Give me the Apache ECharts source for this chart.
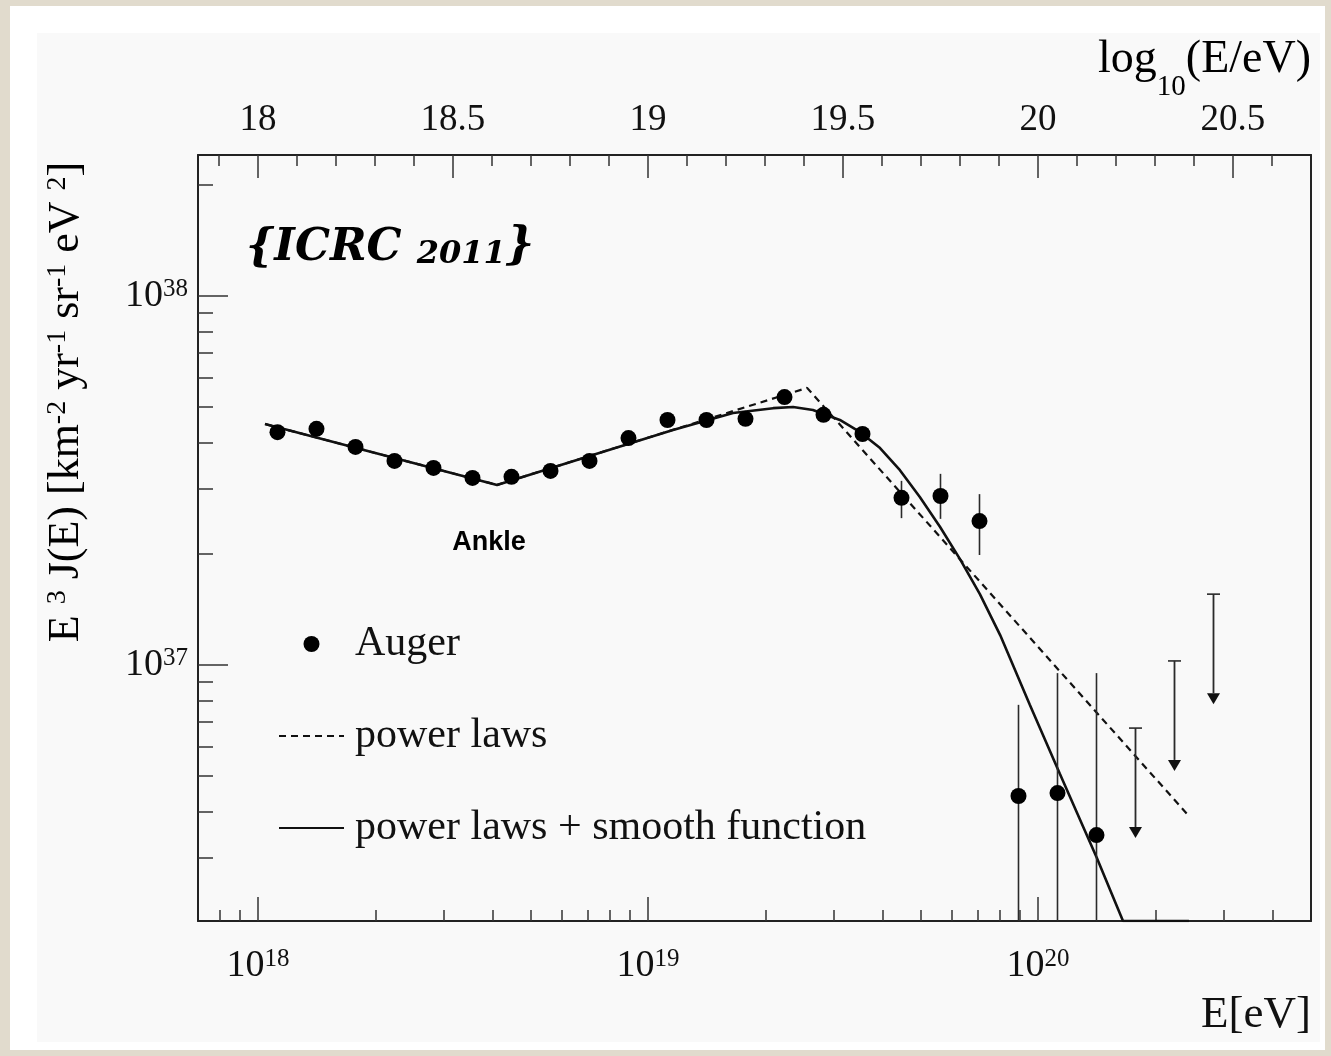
<!DOCTYPE html>
<html><head><meta charset="utf-8">
<script src="https://cdn.jsdelivr.net/npm/echarts@6/dist/echarts.min.js"></script>
<style>
html,body{margin:0;padding:0;width:1331px;height:1056px;background:#e1dbcd;overflow:hidden}
#frame{position:absolute;left:10px;top:6px;width:1315px;height:1044px;background:#ffffff}
#panel{position:absolute;left:37px;top:33px;width:1283px;height:1009px;background:#f9f9f9}
#chart{position:absolute;left:0;top:0;width:1331px;height:1056px}
</style></head><body>
<div id="frame"></div><div id="panel"></div><div id="chart"></div>
<script>
// ---- data (log10 values) ----
const AUGER_LOG_E = [18.05,18.15,18.25,18.35,18.45,18.55,18.65,18.75,18.85,18.95,19.05,19.15,19.25,19.35,19.45,19.55,19.65,19.75,19.85,19.95,20.05,20.15];
const AUGER_LOG_FLUX = [37.631,37.640,37.591,37.553,37.534,37.507,37.510,37.526,37.553,37.615,37.664,37.664,37.667,37.726,37.678,37.626,37.453,37.458,37.390,36.645,36.653,36.539];
const ERR_LOG_E = [19.65,19.75,19.85,19.95,20.05,20.15];
const ERR_LOG_LO = [37.398,37.396,37.298,36.0,36.0,36.0];
const ERR_LOG_HI = [37.499,37.518,37.463,36.892,36.978,36.978];
const UL_LOG_E = [20.25,20.35,20.45];
const UL_LOG_FLUX = [36.829,37.011,37.192];
const PL_LOG_E = [18.018,18.613,19.408,20.385];
const PL_LOG_FLUX = [37.653,37.488,37.751,36.593];
const SMOOTH_LOG_E = [18.018,18.613,18.877,19.064,19.218,19.321,19.372,19.423,19.492,19.544,19.595,19.646,19.697,19.749,19.800,19.851,19.903,19.979,20.056,20.151,20.218,20.387];
const SMOOTH_LOG_FLUX = [37.653,37.488,37.575,37.637,37.683,37.696,37.699,37.691,37.664,37.631,37.588,37.528,37.455,37.374,37.287,37.192,37.081,36.892,36.705,36.477,36.306,36.306];

// ---- axes / ticks ----
const X_MIN = 17.8462, X_MAX = 20.7;
const Y_MIN = 36.3062, Y_MAX = 38.3821;
const BOTTOM_MAJOR = [18, 19, 20];
const TOP_LABELS = [18, 18.5, 19, 19.5, 20, 20.5];
const TOP_MINOR = [17.9,18.1,18.2,18.3,18.4,18.6,18.7,18.8,18.9,19.1,19.2,19.3,19.4,19.6,19.7,19.8,19.9,20.1,20.2,20.3,20.4,20.6];
const LEFT_MAJOR = [37, 38];
const MULTIPLIERS = [2,3,4,5,6,7,8,9];
const DECADES_X = [17, 18, 19, 20];
const DECADES_Y = [36, 37, 38];
function minorLog(decades, lo, hi) {
  const out = [];
  decades.forEach(d => MULTIPLIERS.forEach(k => {
    const v = d + Math.log10(k);
    if (v > lo + 0.005 && v < hi - 0.005) out.push(v);
  }));
  return out;
}
const BOTTOM_MINOR = minorLog(DECADES_X, X_MIN, X_MAX);
const LEFT_MINOR = minorLog(DECADES_Y, Y_MIN, Y_MAX);

const SERIF = '"Liberation Serif", "Times New Roman", serif';
const INK = '#111';
const TICK = { color: '#333', width: 1.5 };
const powRich = {
  b: { fontFamily: SERIF, fontSize: 38, color: INK, lineHeight: 38, verticalAlign: 'bottom', padding: [4, 0, 0, 0] },
  s: { fontFamily: SERIF, fontSize: 25, color: INK, lineHeight: 25, verticalAlign: 'top' }
};
const powFmt = v => '{b|10}{s|' + Math.round(v) + '}';

function xAx(position, ticks, len, labels, showLine) {
  return {
    type: 'value', position: position, min: X_MIN, max: X_MAX,
    axisLine: { show: showLine, lineStyle: { color: '#222', width: 2 } },
    axisTick: { show: true, inside: true, length: len, customValues: ticks, lineStyle: TICK },
    axisLabel: labels || { show: false },
    splitLine: { show: false }
  };
}
function yAx(position, ticks, len, labels, showLine) {
  return {
    type: 'value', position: position, min: Y_MIN, max: Y_MAX,
    axisLine: { show: showLine, lineStyle: { color: '#222', width: 2 } },
    axisTick: { show: ticks.length > 0, inside: true, length: len, customValues: ticks.length ? ticks : undefined, lineStyle: TICK },
    axisLabel: labels || { show: false },
    splitLine: { show: false }
  };
}

const chart = echarts.init(document.getElementById('chart'), null, { renderer: 'canvas' });
const option = {
  animation: false,
  backgroundColor: 'transparent',
  grid: { left: 198, top: 155, width: 1113, height: 766, containLabel: false },
  xAxis: [
    xAx('bottom', BOTTOM_MAJOR, 24, { show: true, customValues: BOTTOM_MAJOR, margin: 26, formatter: powFmt, rich: powRich }, true),
    xAx('bottom', BOTTOM_MINOR, 11, null, false),
    xAx('top', TOP_LABELS, 23, { show: true, customValues: TOP_LABELS, margin: 16, formatter: v => String(v), fontFamily: SERIF, fontSize: 37, color: INK }, true),
    xAx('top', TOP_MINOR, 11, null, false)
  ],
  yAxis: [
    yAx('left', LEFT_MAJOR, 30, { show: true, customValues: LEFT_MAJOR, margin: 10, formatter: powFmt, rich: powRich }, true),
    yAx('left', LEFT_MINOR, 15, null, false),
    yAx('right', [], 0, null, true)
  ],
  legend: {
    orient: 'vertical', left: 278, top: 622, padding: 0, itemWidth: 65, itemHeight: 16, itemGap: 48,
    selectedMode: false,
    textStyle: { fontFamily: SERIF, fontSize: 42, color: INK, lineHeight: 44, padding: [0, 0, 0, 6] },
    data: [
      { name: 'Auger', icon: 'circle', itemStyle: { color: '#000', opacity: 1 } },
      { name: 'power laws', itemStyle: { opacity: 0 } },
      { name: 'power laws + smooth function', itemStyle: { opacity: 0 } }
    ]
  },
  series: [
    {
      name: 'power laws', type: 'line', xAxisIndex: 0, yAxisIndex: 0, symbol: 'none', z: 3,
      itemStyle: { color: '#000' },
      lineStyle: { color: INK, width: 2.2, type: [7, 5] },
      data: PL_LOG_E.map((x, i) => [x, PL_LOG_FLUX[i]])
    },
    {
      name: 'power laws + smooth function', type: 'line', xAxisIndex: 0, yAxisIndex: 0, symbol: 'none', z: 4,
      itemStyle: { color: '#000' },
      lineStyle: { color: INK, width: 2.6 },
      data: SMOOTH_LOG_E.map((x, i) => [x, SMOOTH_LOG_FLUX[i]])
    },
    {
      name: 'errors', type: 'custom', xAxisIndex: 0, yAxisIndex: 0, z: 5, clip: true,
      data: ERR_LOG_E.map((x, i) => [x, ERR_LOG_LO[i], ERR_LOG_HI[i]]),
      encode: { x: 0, y: [1, 2] },
      renderItem: function (params, api) {
        const top = api.coord([api.value(0), api.value(2)]);
        const bot = api.coord([api.value(0), api.value(1)]);
        const cs = params.coordSys;
        return {
          type: 'line',
          shape: { x1: top[0], y1: top[1], x2: bot[0], y2: Math.min(bot[1], cs.y + cs.height) },
          style: { stroke: '#2a2a2a', lineWidth: 1.6 }
        };
      }
    },
    {
      name: 'limits', type: 'custom', xAxisIndex: 0, yAxisIndex: 0, z: 5,
      data: UL_LOG_E.map((x, i) => [x, UL_LOG_FLUX[i]]),
      encode: { x: 0, y: 1 },
      renderItem: function (params, api) {
        const p = api.coord([api.value(0), api.value(1)]);
        const L = 110, hw = 6.5, hh = 11;
        return {
          type: 'group',
          children: [
            { type: 'line', shape: { x1: p[0], y1: p[1], x2: p[0], y2: p[1] + L - hh }, style: { stroke: '#2a2a2a', lineWidth: 1.8 } },
            { type: 'line', shape: { x1: p[0] - hw, y1: p[1], x2: p[0] + hw, y2: p[1] }, style: { stroke: '#2a2a2a', lineWidth: 1.6 } },
            { type: 'polygon', shape: { points: [[p[0] - hw, p[1] + L - hh], [p[0] + hw, p[1] + L - hh], [p[0], p[1] + L]] }, style: { fill: '#111' } }
          ]
        };
      }
    },
    {
      name: 'Auger', type: 'scatter', xAxisIndex: 0, yAxisIndex: 0, z: 6,
      symbol: 'circle', symbolSize: 16,
      itemStyle: { color: '#000', opacity: 1 },
      data: AUGER_LOG_E.map((x, i) => [x, AUGER_LOG_FLUX[i]])
    }
  ],
  graphic: [
    {
      type: 'text', x: 246, y: 223, z: 10,
      style: {
        text: '{a|{ICRC }{b|2011}}',
        fontFamily: '"DejaVu Serif", serif', fontWeight: 'bold', fontStyle: 'italic', fontSize: 44, fill: '#000',
        verticalAlign: 'top',
        rich: {
          a: { fontFamily: '"DejaVu Serif", serif', fontWeight: 'bold', fontStyle: 'italic', fontSize: 44, lineHeight: 48, verticalAlign: 'bottom', color: '#000' },
          b: { fontFamily: '"DejaVu Serif", serif', fontWeight: 'bold', fontStyle: 'italic', fontSize: 32, lineHeight: 38, verticalAlign: 'bottom', color: '#000' }
        }
      }
    },
    {
      type: 'text', x: 489, y: 543, z: 10,
      style: { text: 'Ankle', fontFamily: '"Liberation Sans", Arial, sans-serif', fontWeight: 'bold', fontSize: 27, fill: '#000', align: 'center', verticalAlign: 'middle' }
    },
    {
      type: 'text', x: 1311, y: 37, z: 10,
      style: {
        text: '{m|log}{u|10}{m|(E/eV)}', align: 'right', verticalAlign: 'top',
        rich: {
          m: { fontFamily: SERIF, fontSize: 46, lineHeight: 46, verticalAlign: 'top', color: INK },
          u: { fontFamily: SERIF, fontSize: 29, lineHeight: 29, verticalAlign: 'top', padding: [36, 0, 0, 0], color: INK }
        }
      }
    },
    {
      type: 'text', x: 1311, y: 1015, z: 10,
      style: { text: 'E[eV]', fontFamily: SERIF, fontSize: 45, fill: INK, align: 'right', verticalAlign: 'middle' }
    },
    {
      type: 'text', x: 66, y: 402, rotation: Math.PI / 2, z: 10,
      style: {
        text: '{m|E }{s|3}{m| J(E) [km}{s|-2}{m| yr}{s|-1}{m| sr}{s|-1}{m| eV }{s|2}{m|]}',
        align: 'center', verticalAlign: 'middle',
        rich: {
          m: { fontFamily: SERIF, fontSize: 44, lineHeight: 44, verticalAlign: 'bottom', padding: [7, 0, 0, 0], color: INK },
          s: { fontFamily: SERIF, fontSize: 28, lineHeight: 28, verticalAlign: 'top', color: INK }
        }
      }
    }
  ]
};
chart.setOption(option);
</script></body></html>
